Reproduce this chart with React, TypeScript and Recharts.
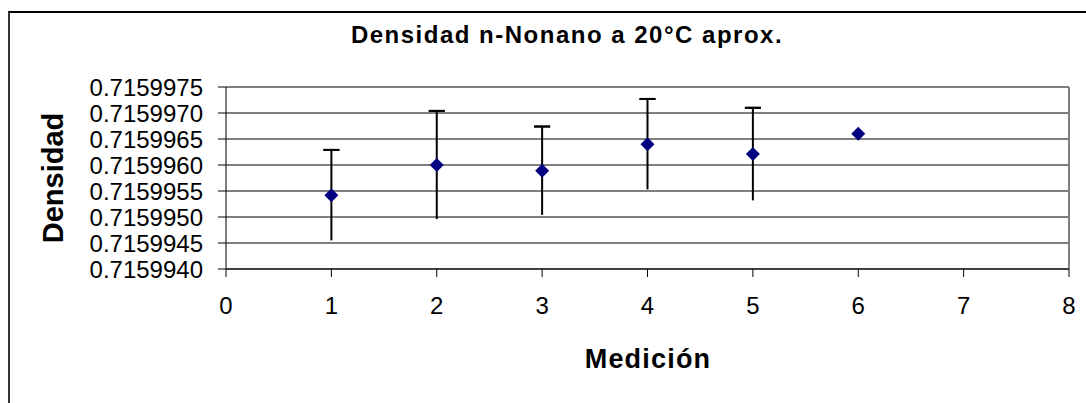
import React from "react";
import {
  ScatterChart,
  Scatter,
  XAxis,
  YAxis,
  CartesianGrid,
  ErrorBar,
  ReferenceLine,
} from "recharts";

// Measurement number for each reading
const mediciones = [1, 2, 3, 4, 5, 6];
// Measured density of n-nonane (g/cm³) at ~20 °C
const densidades = [0.71599542, 0.715996, 0.71599589, 0.7159964, 0.71599621, 0.7159966];
// Uncertainty of each reading (last one has none)
const incertidumbres: (number | null)[] = [0.00000087, 0.00000104, 0.00000085, 0.00000087, 0.00000089, null];

const xTicks = [0, 1, 2, 3, 4, 5, 6, 7, 8];
const yTicks = [
  0.715994, 0.7159945, 0.715995, 0.7159955, 0.715996, 0.7159965, 0.715997, 0.7159975,
];

const FONT = "'Liberation Sans', Arial, sans-serif";

const rows = mediciones.map((m, i) => {
  const e = incertidumbres[i];
  return {
    x: m,
    y: densidades[i],
    err: e,
    // zero-length bar sitting on the upper end: draws only the top cap
    cap: e == null ? null : [-e, e],
  };
});

const Diamond = (props: any) => {
  const { cx, cy } = props;
  if (cx == null || cy == null) return null;
  const r = 7;
  return (
    <polygon
      points={`${cx},${cy - r} ${cx + r},${cy} ${cx},${cy + r} ${cx - r},${cy}`}
      fill="#000080"
    />
  );
};

export default function App() {
  return (
    <div
      style={{
        position: "absolute",
        left: 0,
        top: 0,
        width: 1086,
        height: 403,
        overflow: "hidden",
        background: "#fff",
        fontFamily: FONT,
      }}
    >
      {/* chart frame */}
      <div
        style={{
          position: "absolute",
          left: 8,
          top: 11,
          width: 1200,
          height: 500,
          borderTop: "2px solid #000",
          borderLeft: "2px solid #333",
        }}
      />
      <div style={{ position: "absolute", left: 0, top: 0 }}>
        <ScatterChart
          width={1086}
          height={403}
          margin={{ top: 87, right: 17, bottom: 74, left: 76 }}
        >
          <CartesianGrid vertical={false} stroke="#000" strokeWidth={1} />
          <XAxis
            type="number"
            dataKey="x"
            domain={[0, 8]}
            ticks={xTicks}
            interval={0}
            height={60}
            tickSize={8}
            tickMargin={20}
            axisLine={{ stroke: "#000", strokeWidth: 1 }}
            tickLine={{ stroke: "#000", strokeWidth: 1 }}
            tick={{ fill: "#000", fontSize: 24, fontFamily: FONT }}
          />
          <YAxis
            type="number"
            dataKey="y"
            domain={[0.715994, 0.7159975]}
            allowDataOverflow
            ticks={yTicks}
            interval={0}
            width={150}
            tickSize={8}
            tickMargin={15}
            tickFormatter={(v: number) => v.toFixed(7)}
            axisLine={{ stroke: "#000", strokeWidth: 1 }}
            tickLine={{ stroke: "#000", strokeWidth: 1 }}
            tick={{ fill: "#000", fontSize: 24, fontFamily: FONT }}
          />
          <ReferenceLine y={0.7159975} stroke="#808080" strokeWidth={2} />
          <ReferenceLine x={8} stroke="#808080" strokeWidth={2} />
          <Scatter data={rows} shape={<Diamond />} isAnimationActive={false}>
            <ErrorBar
              dataKey="err"
              direction="y"
              width={0}
              stroke="#000"
              strokeWidth={2}
              isAnimationActive={false}
            />
            <ErrorBar
              dataKey="cap"
              direction="y"
              width={8}
              stroke="#000"
              strokeWidth={2}
              isAnimationActive={false}
            />
          </Scatter>
        </ScatterChart>
      </div>
      <svg
        width={1086}
        height={403}
        style={{ position: "absolute", left: 0, top: 0, pointerEvents: "none" }}
      >
        <text
          x={567}
          y={43}
          textAnchor="middle"
          fontFamily={FONT}
          fontWeight="bold"
          fontSize={24}
          letterSpacing={1.5}
          fill="#000"
        >
          Densidad n-Nonano a 20°C aprox.
        </text>
        <text
          x={63}
          y={178}
          transform="rotate(-90, 63, 178)"
          textAnchor="middle"
          fontFamily={FONT}
          fontWeight="bold"
          fontSize={29}
          fill="#000"
        >
          Densidad
        </text>
        <text
          x={648}
          y={368}
          textAnchor="middle"
          fontFamily={FONT}
          fontWeight="bold"
          fontSize={27}
          letterSpacing={1.2}
          fill="#000"
        >
          Medición
        </text>
      </svg>
    </div>
  );
}
